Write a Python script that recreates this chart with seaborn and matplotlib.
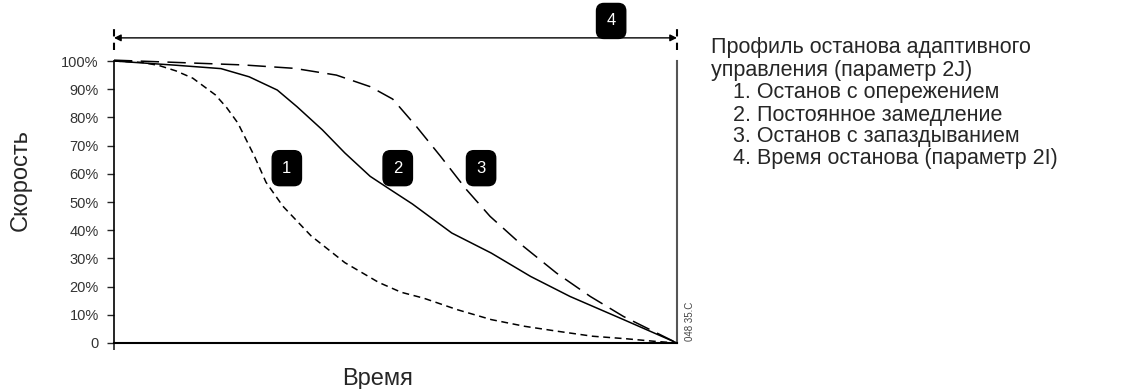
import matplotlib
matplotlib.use("Agg")
import matplotlib.pyplot as plt
import seaborn as sns

# time as fraction of the stop time, speed in %
t_early = [0, 0.05, 0.08, 0.11, 0.14, 0.18, 0.20, 0.22, 0.25, 0.27, 0.30, 0.35, 0.41, 0.47,
           0.51, 0.55, 0.61, 0.67, 0.73, 0.79, 0.85, 0.91, 0.96, 1.0]
v_early = [100, 99.5, 98.4, 96.5, 93.9, 88, 83.5, 78, 66, 57, 48.5, 38, 28.5, 21.5,
           18.0, 15.9, 11.8, 8.3, 5.9, 4.1, 2.4, 1.5, 0.6, 0]

t_const = [0, 0.11, 0.19, 0.24, 0.29, 0.325, 0.37, 0.41, 0.455, 0.49, 0.53, 0.60, 0.67,
           0.74, 0.81, 0.905, 1.0]
v_const = [100, 98.5, 97.3, 94.4, 89.7, 83.8, 75.6, 67.4, 59.1, 54.5, 49.3, 39, 31.9,
           23.6, 16.5, 8.3, 0]

t_late = [0, 0.11, 0.23, 0.32, 0.395, 0.455, 0.495, 0.537, 0.58, 0.626, 0.668, 0.727,
          0.786, 0.846, 0.905, 1.0]
v_late = [100.3, 99.5, 98.6, 97.4, 95, 90.9, 86.5, 76.8, 66.2, 54.4, 44.9, 34.3,
          24.8, 16.5, 9.4, 0]

y_ticks = [0, 10, 20, 30, 40, 50, 60, 70, 80, 90, 100]
y_tick_labels = ["0", "10%", "20%", "30%", "40%", "50%", "60%", "70%", "80%", "90%", "100%"]

badge_labels = ["1", "2", "3", "4"]

legend_title = ["Профиль останова адаптивного", "управления (параметр 2J)"]
legend_items = ["1. Останов с опережением", "2. Постоянное замедление",
                "3. Останов с запаздыванием", "4. Время останова (параметр 2I)"]

sns.set_style("white")
plt.rcParams["font.family"] = ["Liberation Sans", "DejaVu Sans"]

W, H = 1123, 389
fig = plt.figure(figsize=(W / 100, H / 100), dpi=100)
ax = fig.add_axes([114 / W, 46 / H, 563 / W, 282 / H])

sns.lineplot(x=t_early, y=v_early, ax=ax, color="black", lw=1.1,
             linestyle=(0, (4.5, 3)), sort=False, clip_on=False)
sns.lineplot(x=t_const, y=v_const, ax=ax, color="black", lw=1.1,
             sort=False, clip_on=False)
sns.lineplot(x=t_late, y=v_late, ax=ax, color="black", lw=1.1,
             linestyle=(0, (12, 5.5)), sort=False, clip_on=False)

ax.set_xlim(0, 1)
ax.set_ylim(0, 100)
ax.set_yticks(y_ticks)
ax.set_yticklabels(y_tick_labels)
ax.set_xticks([0])
ax.set_xticklabels([""])
ax.tick_params(axis="y", length=5, width=1.0, pad=6, labelsize=10.5,
               labelcolor="#333333", left=True)
ax.tick_params(axis="x", length=5, width=1.2, bottom=True)
ax.set_xlabel("")
ax.set_ylabel("")

ax.spines["top"].set_visible(False)
ax.spines["left"].set_color("black")
ax.spines["left"].set_linewidth(1.2)
ax.spines["bottom"].set_color("black")
ax.spines["bottom"].set_linewidth(1.5)
ax.spines["right"].set_color("#555555")
ax.spines["right"].set_linewidth(1.5)

# stop time span with arrow
t0, t1 = t_const[0], t_const[-1]
ax.vlines([t0, t1], 103.9, 113.5, colors="black", lw=1.5,
          linestyles=[(0, (3.5, 3))], clip_on=False)
ax.annotate("", xy=(t0, 108.2), xytext=(t1, 108.2),
            arrowprops=dict(arrowstyle="<|-|>", color="black", lw=1.0,
                            mutation_scale=10, shrinkA=0, shrinkB=0),
            annotation_clip=False)

badge_pos = [(0.307, 62.0), (0.504, 62.0), (0.652, 62.0), (0.883, 114.2)]
for lab, (bx, by) in zip(badge_labels, badge_pos):
    ax.text(bx, by, lab, color="white", fontsize=12, ha="center", va="center",
            bbox=dict(boxstyle="round,pad=0.6,rounding_size=0.45",
                      fc="black", ec="black"), clip_on=False)

fig.text(21 / W, 1 - 180 / H, "Скорость", rotation=90, fontsize=17,
         ha="center", va="center")
fig.text(378 / W, 1 - 385 / H, "Время", fontsize=17, ha="center", va="baseline")

baselines = [53.3, 76, 98, 121, 142.3, 164]
for i, line in enumerate(legend_title + legend_items):
    x0 = 711 if i < 2 else 733
    fig.text(x0 / W, 1 - baselines[i] / H, line, fontsize=15.5, ha="left",
             va="baseline")

fig.text(690 / W, 1 - 321 / H, "048 35.C", rotation=90, fontsize=7,
         color="#444444", ha="center", va="center")

fig.savefig("out.png", dpi=100)
